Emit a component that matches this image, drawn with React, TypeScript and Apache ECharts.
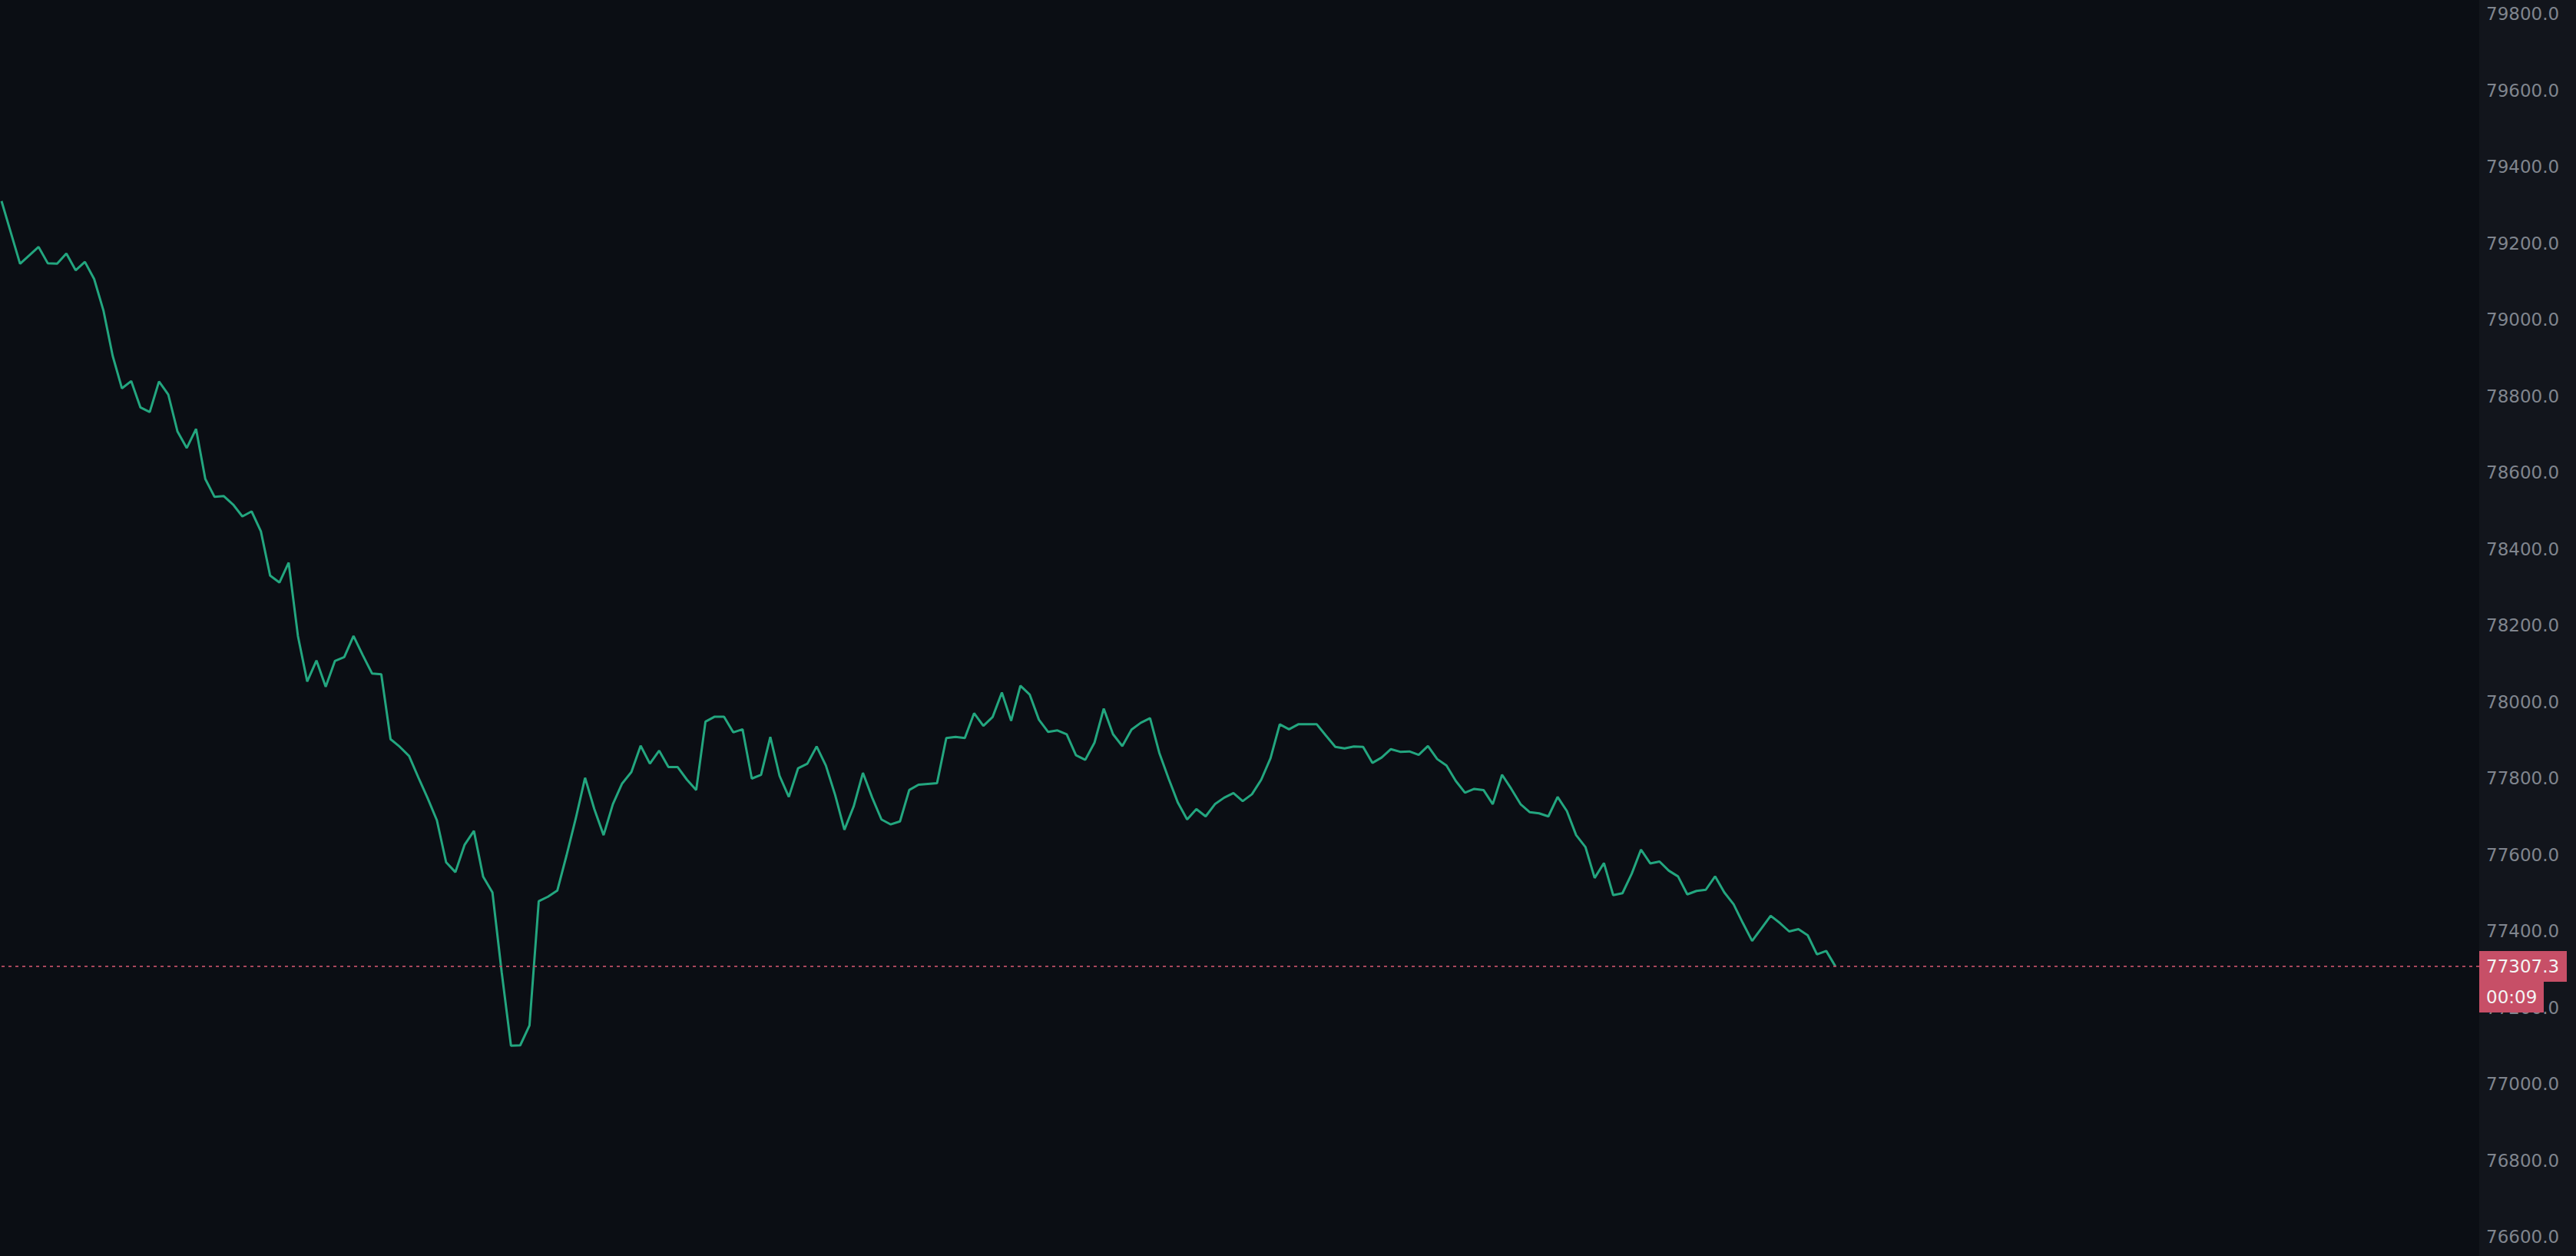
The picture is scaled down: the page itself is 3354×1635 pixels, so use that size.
import React, { useEffect, useRef } from "react";
import * as echarts from "echarts";

const prices: number[] = [
  79310, 79228, 79146, 79168, 79190, 79147, 79146, 79173, 79129, 79151,
  79106, 79024, 78905, 78820, 78839, 78770, 78758, 78838, 78804, 78707,
  78664, 78714, 78583, 78536, 78538, 78516, 78485, 78498, 78446, 78330,
  78312, 78364, 78172, 78053, 78108, 78039, 78107, 78117, 78172, 78122,
  78074, 78072, 77902, 77882, 77858, 77802, 77748, 77690, 77580, 77554,
  77626, 77662, 77542, 77501, 77292, 77100, 77101, 77153, 77478, 77490,
  77506, 77598, 77695, 77801, 77719, 77651, 77732, 77786, 77816, 77885,
  77838, 77872, 77829, 77829, 77796, 77769, 77948, 77961, 77961, 77920,
  77928, 77799, 77809, 77908, 77806, 77751, 77826, 77838, 77883, 77833,
  77756, 77665, 77726, 77814, 77749, 77692, 77679, 77687, 77769, 77783,
  77785, 77787, 77905, 77908, 77905, 77970, 77937, 77960, 78024, 77950,
  78042, 78019, 77953, 77921, 77925, 77915, 77860, 77848, 77893, 77982,
  77915, 77884, 77927, 77945, 77957, 77866, 77799, 77736, 77692, 77719,
  77700, 77732, 77749, 77761, 77740, 77758, 77796, 77852, 77941, 77928,
  77941, 77941, 77941, 77911, 77882, 77878, 77883, 77882, 77840, 77854,
  77876, 77869, 77870, 77861, 77884, 77850, 77833, 77793, 77762, 77772,
  77769, 77732, 77809, 77772, 77732, 77711, 77708, 77700, 77751, 77714,
  77651, 77620, 77539, 77578, 77494, 77499, 77550, 77613, 77577, 77582,
  77558, 77543, 77496, 77505, 77508, 77543, 77501, 77470, 77421, 77374,
  77407, 77440, 77421, 77399, 77405, 77389, 77339, 77348, 77307.3,
];

const yMin = 76600;
const yMax = 79800;
const yStep = 200;
const xSlots = 267.5;
const lastPrice = 77307.3;
const countdown = "00:09";

const FONT = "DejaVu Sans";

export default function App() {
  const ref = useRef<HTMLDivElement>(null);

  useEffect(() => {
    if (!ref.current) return;
    const chart = echarts.init(ref.current, null, { renderer: "svg" });
    const seriesData = prices.map((v, i) => [i, v]);
    chart.setOption({
      animation: false,
      backgroundColor: "#0b0e14",
      grid: { left: 2, right: 126, top: 18, bottom: 25 },
      xAxis: {
        type: "value",
        min: 0,
        max: xSlots,
        show: false,
      },
      yAxis: {
        type: "value",
        position: "right",
        min: yMin,
        max: yMax,
        interval: yStep,
        splitLine: { show: false },
        axisLine: { show: false },
        axisTick: { show: false },
        axisLabel: {
          show: true,
          margin: 9,
          color: "#80858e",
          fontSize: 23,
          fontFamily: FONT,
          formatter: (v: number) => v.toFixed(1),
        },
        z: 5,
      },
      graphic: [
        {
          type: "rect",
          id: "panel",
          left: 3228,
          top: 0,
          shape: { width: 126, height: 1635 },
          style: { fill: "#12151c" },
          z: -1,
          silent: true,
        },
      ],
      series: [
        {
          type: "line",
          data: seriesData,
          showSymbol: false,
          symbol: "none",
          lineStyle: { color: "#23a67f", width: 3 },
          markLine: {
            silent: true,
            symbol: "none",
            label: { show: false },
            lineStyle: { color: "#b94d63", width: 2, type: [4, 5], opacity: 0.9 },
            data: [{ yAxis: lastPrice }],
          },
        },
      ],
    });

    const py = chart.convertToPixel({ yAxisIndex: 0 }, lastPrice) as number;
    chart.setOption({
      graphic: [
        {
          type: "rect",
          id: "panel",
          left: 3228,
          top: 0,
          shape: { width: 126, height: 1635 },
          style: { fill: "#12151c" },
          z: -1,
          silent: true,
        },
        {
          type: "rect",
          id: "tag1",
          shape: { x: 3228, y: py - 20, width: 114, height: 40 },
          style: { fill: "#c74f67" },
          z: 20,
        },
        {
          type: "rect",
          id: "tag2",
          shape: { x: 3228, y: py + 20, width: 84, height: 40 },
          style: { fill: "#c74f67" },
          z: 20,
        },
        {
          type: "text",
          id: "tagtext1",
          x: 3237,
          y: py,
          style: {
            text: lastPrice.toFixed(1),
            fill: "#f4f4f4",
            font: `23px "${FONT}"`,
            textVerticalAlign: "middle",
            textAlign: "left",
          },
          z: 21,
        },
        {
          type: "text",
          id: "tagtext2",
          x: 3237,
          y: py + 40,
          style: {
            text: countdown,
            fill: "#f4f4f4",
            font: `23px "${FONT}"`,
            textVerticalAlign: "middle",
            textAlign: "left",
          },
          z: 21,
        },
      ],
    });

    return () => chart.dispose();
  }, []);

  return (
    <div
      ref={ref}
      style={{ position: "fixed", left: 0, top: 0, width: "100vw", height: "100vh" }}
    />
  );
}
